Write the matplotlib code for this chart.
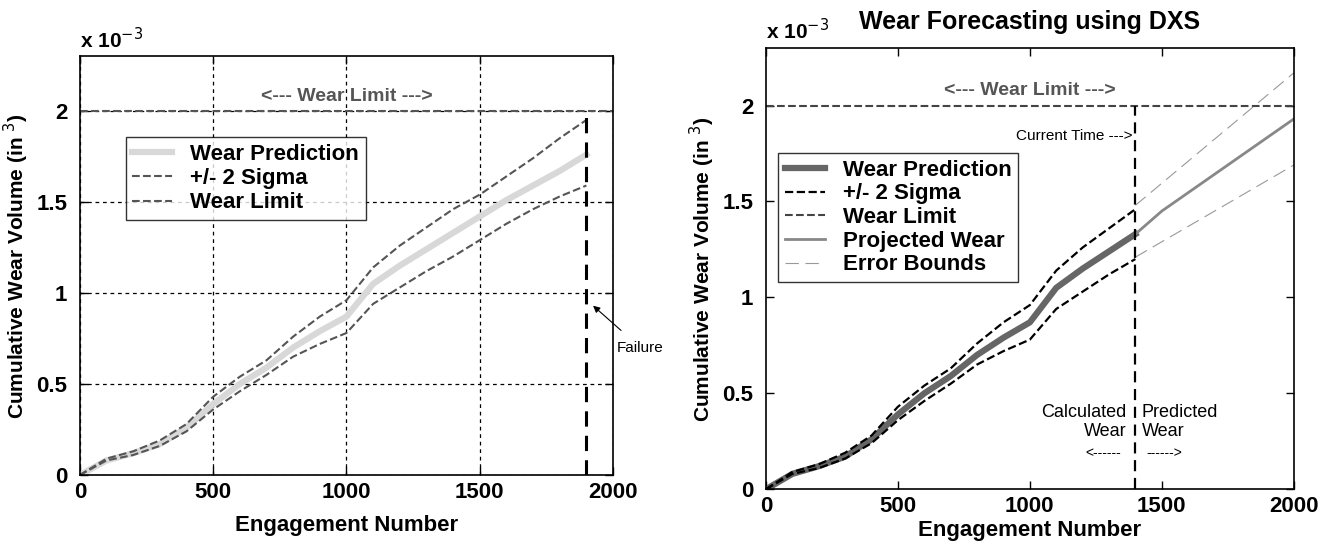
import numpy as np
import matplotlib
matplotlib.use("Agg")
import matplotlib.pyplot as plt

plt.rcParams['font.family'] = ['Liberation Sans', 'DejaVu Sans']

# datos (volumen en unidades de 1e-3 in^3)
engagements = [0, 100, 200, 300, 400, 500, 600, 700, 800, 900, 1000,
               1100, 1200, 1300, 1400, 1500, 1600, 1700, 1800, 1900]
wear_pred = [0, 0.08, 0.12, 0.17, 0.26, 0.39, 0.50, 0.59, 0.70, 0.79, 0.87,
             1.05, 1.15, 1.24, 1.33, 1.42, 1.51, 1.59, 1.67, 1.76]
sigma_up = [0, 0.09, 0.13, 0.19, 0.28, 0.43, 0.54, 0.63, 0.76, 0.87, 0.96,
            1.14, 1.26, 1.36, 1.46, 1.54, 1.64, 1.74, 1.85, 1.95]
sigma_low = [0, 0.08, 0.11, 0.16, 0.24, 0.36, 0.46, 0.55, 0.65, 0.72, 0.78,
             0.94, 1.03, 1.12, 1.20, 1.29, 1.38, 1.46, 1.53, 1.59]

wear_limit = 2.0
failure_x = 1900
current_x = 1400

proj_x = [1400, 1500, 2000]
proj_wear = [1.33, 1.45, 1.93]
bound_x = [1400, 2000]
bound_up = [1.48, 2.17]
bound_low = [1.21, 1.69]

xticks = [0, 500, 1000, 1500, 2000]
yticks = [0, 0.5, 1, 1.5, 2]
ytick_labels = ['0', '0.5', '1', '1.5', '2']

fig = plt.figure(figsize=(13.31, 5.46), dpi=100)
ax1 = fig.add_axes([0.060, 0.130, 0.4006, 0.767])
ax2 = fig.add_axes([0.5755, 0.104, 0.3965, 0.808])

n_cur = engagements.index(current_x) + 1


def style_axes(ax, xpad):
    ax.set_xlim(0, 2000)
    ax.set_ylim(0, 2.3)
    ax.set_xticks(xticks)
    ax.set_xticklabels([str(t) for t in xticks])
    ax.set_yticks(yticks)
    ax.set_yticklabels(ytick_labels)
    ax.tick_params(direction='in', top=True, right=True, length=6,
                   labelsize=16, width=1)
    ax.tick_params(axis='y', pad=9)
    ax.tick_params(axis='x', pad=5)
    for lbl in ax.get_xticklabels() + ax.get_yticklabels():
        lbl.set_fontweight('bold')
    for s in ax.spines.values():
        s.set_linewidth(1.2)
    ax.set_xlabel('Engagement Number', fontsize=16, fontweight='bold',
                  labelpad=xpad)
    ax.set_ylabel('Cumulative Wear Volume (in $^3$)', fontsize=15,
                  fontweight='bold', labelpad=4)
    ax.text(0, 1.01, r'x 10$^{-3}$', transform=ax.transAxes, fontsize=15,
            fontweight='bold', ha='left', va='bottom')


# Subgráfico 1
style_axes(ax1, 9)
ax1.grid(True, color='black', linestyle=(0, (3, 3)), linewidth=0.9)
ax1.plot(engagements, wear_pred, color='#d8d8d8', lw=4.5, label='Wear Prediction')
ax1.plot(engagements, sigma_up, color='#555555', lw=1.5, ls='--', label='+/- 2 Sigma')
ax1.plot(engagements, sigma_low, color='#555555', lw=1.5, ls='--')
ax1.plot([0, 2000], [wear_limit, wear_limit], color='#555555', lw=1.5, ls='--',
         label='Wear Limit')
ax1.plot([failure_x, failure_x], [0, wear_limit], color='black', lw=2.2,
         ls=(0, (5, 3)))
ax1.text(1000, 2.08, '<--- Wear Limit --->', color='#555555', fontsize=14,
         fontweight='bold', ha='center', va='center')
ax1.annotate('Failure', xy=(1925, 0.93), xytext=(2015, 0.70), fontsize=11,
             ha='left', va='center', annotation_clip=False,
             arrowprops=dict(arrowstyle='-|>', color='black', lw=0.8,
                             shrinkA=8, shrinkB=0, mutation_scale=10))
leg1 = ax1.legend(loc='upper left', bbox_to_anchor=(0.086, 0.807), fontsize=16,
                  frameon=True, fancybox=False, edgecolor='black',
                  handlelength=1.8, borderpad=0.3, labelspacing=0.15,
                  borderaxespad=0)
leg1.get_frame().set_linewidth(1.0)
for t in leg1.get_texts():
    t.set_fontweight('bold')

# Subgráfico 2
style_axes(ax2, 2)
ax2.plot(engagements[:n_cur], wear_pred[:n_cur], color='#666666', lw=4.5,
         label='Wear Prediction')
ax2.plot(engagements[:n_cur], sigma_up[:n_cur], color='black', lw=1.6, ls='--',
         label='+/- 2 Sigma')
ax2.plot(engagements[:n_cur], sigma_low[:n_cur], color='black', lw=1.6, ls='--')
ax2.plot([0, 2000], [wear_limit, wear_limit], color='#444444', lw=1.5, ls='--',
         label='Wear Limit')
ax2.plot(proj_x, proj_wear, color='#888888', lw=2.0, label='Projected Wear')
ax2.plot(bound_x, bound_up, color='#999999', lw=0.8, ls=(0, (12, 6)),
         label='Error Bounds')
ax2.plot(bound_x, bound_low, color='#999999', lw=0.8, ls=(0, (12, 6)))
ax2.plot([current_x, current_x], [0, wear_limit], color='black', lw=1.6,
         ls=(0, (5, 3)))
ax2.text(1000, 2.08, '<--- Wear Limit --->', color='#555555', fontsize=14,
         fontweight='bold', ha='center', va='center')
ax2.text(1390, 1.84, 'Current Time --->', fontsize=11, ha='right', va='center')
ax2.text(1367, 0.40, 'Calculated', fontsize=13, ha='right', va='center')
ax2.text(1367, 0.30, 'Wear', fontsize=13, ha='right', va='center')
ax2.text(1424, 0.40, 'Predicted', fontsize=13, ha='left', va='center')
ax2.text(1424, 0.30, 'Wear', fontsize=13, ha='left', va='center')
ax2.text(1280, 0.19, '<------', fontsize=10, ha='center', va='center')
ax2.text(1511, 0.19, '------>', fontsize=10, ha='center', va='center')
ax2.set_title('Wear Forecasting using DXS', fontsize=18, fontweight='bold',
              pad=14)
leg2 = ax2.legend(loc='upper left', bbox_to_anchor=(0.023, 0.762), fontsize=16,
                  frameon=True, fancybox=False, edgecolor='black',
                  handlelength=1.8, borderpad=0.3, labelspacing=0.12,
                  borderaxespad=0)
leg2.get_frame().set_linewidth(1.0)
for t in leg2.get_texts():
    t.set_fontweight('bold')

plt.savefig('out.png', dpi=100)
